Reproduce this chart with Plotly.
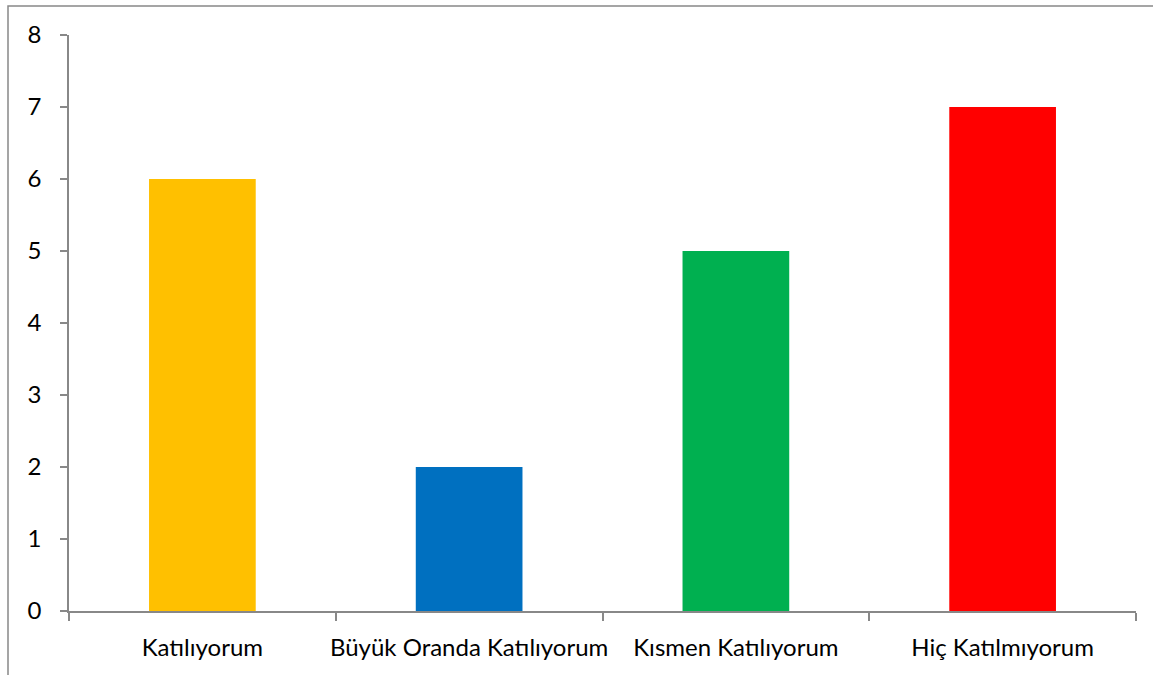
import plotly.graph_objects as go

categories = ["Katılıyorum", "Büyük Oranda Katılıyorum", "Kısmen Katılıyorum", "Hiç Katılmıyorum"]
values = [6, 2, 5, 7]
colors = ["#FFC000", "#0070C0", "#00B050", "#FF0000"]
y_ticks = [0, 1, 2, 3, 4, 5, 6, 7, 8]

fig = go.Figure(go.Bar(x=categories, y=values, marker=dict(color=colors, line=dict(width=0)), width=0.4))

axis_color = "#888888"
fig.update_layout(
    width=1153, height=675,
    margin=dict(l=69, r=17, t=35, b=64, autoexpand=False),
    plot_bgcolor="white", paper_bgcolor="white",
    font=dict(family="Lato, Open Sans, sans-serif", size=24, color="black"),
    showlegend=False,
    bargap=0.6,
)
fig.update_xaxes(
    showline=True, linecolor=axis_color, linewidth=1.5,
    ticks="outside", ticklen=8, tickcolor=axis_color, tickwidth=1.5,
    tickson="boundaries", showgrid=False, ticklabelstandoff=14,
    tickangle=0, automargin=False,
    tickfont=dict(size=24, color="black"),
)
fig.update_yaxes(
    range=[0, 8], tickvals=y_ticks, showline=True, linecolor=axis_color, linewidth=1.5,
    ticks="outside", ticklen=7, tickcolor=axis_color, tickwidth=1.5,
    showgrid=False, zeroline=False, ticklabelstandoff=14, automargin=False,
    tickfont=dict(size=24, color="black"),
)
fig.add_shape(type="rect", xref="paper", yref="paper",
              x0=(8 - 69) / 1067, x1=1.05, y0=-0.2, y1=(611 - 6) / 576,
              line=dict(color=axis_color, width=1.5), fillcolor="rgba(0,0,0,0)", layer="below")

fig.write_html("out.html")
